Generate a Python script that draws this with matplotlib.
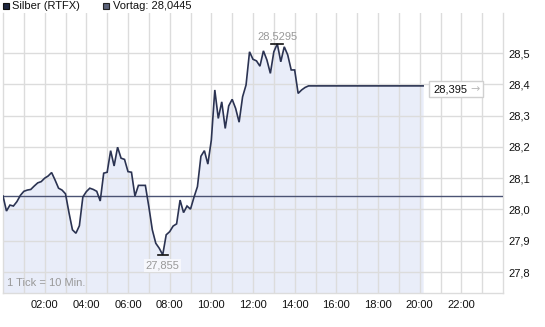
import matplotlib
matplotlib.use("Agg")
import matplotlib.pyplot as plt
from matplotlib.patches import Rectangle
import numpy as np

plt.rcParams['font.family'] = ['Liberation Sans', 'DejaVu Sans']

# ---- data (10-minute ticks starting 00:00) ----
prices = [
    28.043, 27.995, 28.014, 28.011, 28.025, 28.045, 28.058, 28.062, 28.064, 28.075,
    28.085, 28.089, 28.100, 28.107, 28.118, 28.094, 28.068, 28.062, 28.050, 27.990,
    27.935, 27.924, 27.948, 28.040, 28.057, 28.068, 28.064, 28.058, 28.027, 28.116,
    28.119, 28.188, 28.139, 28.199, 28.164, 28.160, 28.121, 28.119, 28.043, 28.077,
    28.077, 28.077, 28.009, 27.935, 27.892, 27.876, 27.855, 27.919, 27.929, 27.947,
    27.954, 28.030, 27.990, 28.011, 28.001, 28.039, 28.073, 28.170, 28.188, 28.145,
    28.222, 28.382, 28.291, 28.344, 28.259, 28.331, 28.352, 28.323, 28.279, 28.360,
    28.398, 28.504, 28.480, 28.475, 28.458, 28.507, 28.478, 28.435, 28.504, 28.5295,
    28.472, 28.520, 28.494, 28.446, 28.446, 28.371, 28.382, 28.390, 28.395, 28.395,
    28.395, 28.395, 28.395, 28.395, 28.395, 28.395, 28.395, 28.395, 28.395, 28.395,
    28.395, 28.395, 28.395, 28.395, 28.395, 28.395, 28.395, 28.395, 28.395, 28.395,
    28.395, 28.395, 28.395, 28.395, 28.395, 28.395, 28.395, 28.395, 28.395, 28.395,
    28.395, 28.395,
]
tick_minutes = 10
prev_close = 28.0445
last_price = 28.395
max_label = "28,5295"
min_label = "27,855"
series_name = "Silber (RTFX)"
x_labels = ["02:00", "04:00", "06:00", "08:00", "10:00", "12:00",
            "14:00", "16:00", "18:00", "20:00", "22:00"]
y_ticks = [27.8, 27.9, 28.0, 28.1, 28.2, 28.3, 28.4, 28.5]

W, H = 545, 327
fig = plt.figure(figsize=(W / 100, H / 100), dpi=100)

def fx(px):
    return px / W

def fy(py):
    return 1 - py / H

ax = fig.add_axes([fx(3), fy(293), (503 - 3) / W, (293 - 13) / H])
ymin, ymax = 27.733, 28.628
ax.set_xlim(0, 1440)
ax.set_ylim(ymin, ymax)

t = np.arange(len(prices)) * tick_minutes
p = np.array(prices)

grid_c = '#dcdcdc'
ax.fill_between(t, p, ymin, color='#e9edf9', lw=0, zorder=1)
ax.plot(t, p, color='#2b3352', lw=1.2, zorder=4, solid_joinstyle='miter')
ax.axhline(prev_close, color='#4b5374', lw=1.0, zorder=3)

# grid
hours = list(range(60, 1440, 60))
ax.set_xticks(hours)
lab = []
for h in hours:
    s = "%02d:00" % (h // 60)
    lab.append(s if s in x_labels else "")
ax.set_xticklabels(lab, fontsize=8, color='#111111')
ax.yaxis.tick_right()
ax.set_yticks(y_ticks)
ax.set_yticklabels([("%.1f" % v).replace('.', ',') for v in y_ticks],
                   fontsize=8, color='#111111')
ax.tick_params(axis='both', length=0)
ax.tick_params(axis='x', pad=5)
ax.tick_params(axis='y', pad=4)
ax.grid(True, color=grid_c, lw=1.0, zorder=2)
ax.set_axisbelow(False)
for gl in ax.get_xgridlines() + ax.get_ygridlines():
    gl.set_zorder(2)
for s in ax.spines.values():
    s.set_color(grid_c)
    s.set_linewidth(1.0)
ax.spines['top'].set_visible(False)

# max / min markers
imax = int(np.argmax(p))
imin = int(np.argmin(p))
ax.plot([t[imax] - 17, t[imax] + 17], [p[imax]] * 2, color='#111111', lw=1.2, zorder=5)
ax.plot([t[imin] - 14, t[imin] + 14], [p[imin]] * 2, color='#111111', lw=1.2, zorder=5)
ax.annotate(max_label, (t[imax], p[imax]), xytext=(0, 2), textcoords='offset points',
            ha='center', va='bottom', fontsize=8, color='#999999', zorder=6)
ax.annotate(min_label, (t[imin], p[imin]), xytext=(0, -4), textcoords='offset points',
            ha='center', va='top', fontsize=8, color='#999999', zorder=6,
            bbox=dict(boxstyle='square,pad=0.15', fc='#f6f7fc', ec='none'))

# tick note
ax.text(0.008, 0.018, "1 Tick = 10 Min.", transform=ax.transAxes, fontsize=8,
        color='#999999', ha='left', va='bottom', zorder=6)

# last price box
fig.add_artist(Rectangle((fx(429), fy(97)), (483 - 429) / W, 16 / H,
                         transform=fig.transFigure, fc='white', ec='#d0d0d0', lw=1.0))
fig.text(fx(433), fy(89), ("%.3f" % last_price).replace('.', ','), fontsize=8,
         color='#111111', ha='left', va='center')
fig.text(fx(470), fy(89), "\u2192", fontsize=8, color='#bbbbbb', ha='left', va='center',
         family=['DejaVu Sans'])

# legend
fig.add_artist(Rectangle((fx(3), fy(9)), 6 / W, 6 / H, transform=fig.transFigure,
                         fc='#1e2740', ec='#111111', lw=0.8))
fig.text(fx(12), fy(6), series_name, fontsize=8, color='#111111', ha='left', va='center')
fig.add_artist(Rectangle((fx(103), fy(9)), 6 / W, 6 / H, transform=fig.transFigure,
                         fc='#5b6279', ec='#222222', lw=0.8))
fig.text(fx(113), fy(6), "Vortag: " + ("%.4f" % prev_close).replace('.', ','),
         fontsize=8, color='#111111', ha='left', va='center')

fig.savefig("out.png", dpi=100)
